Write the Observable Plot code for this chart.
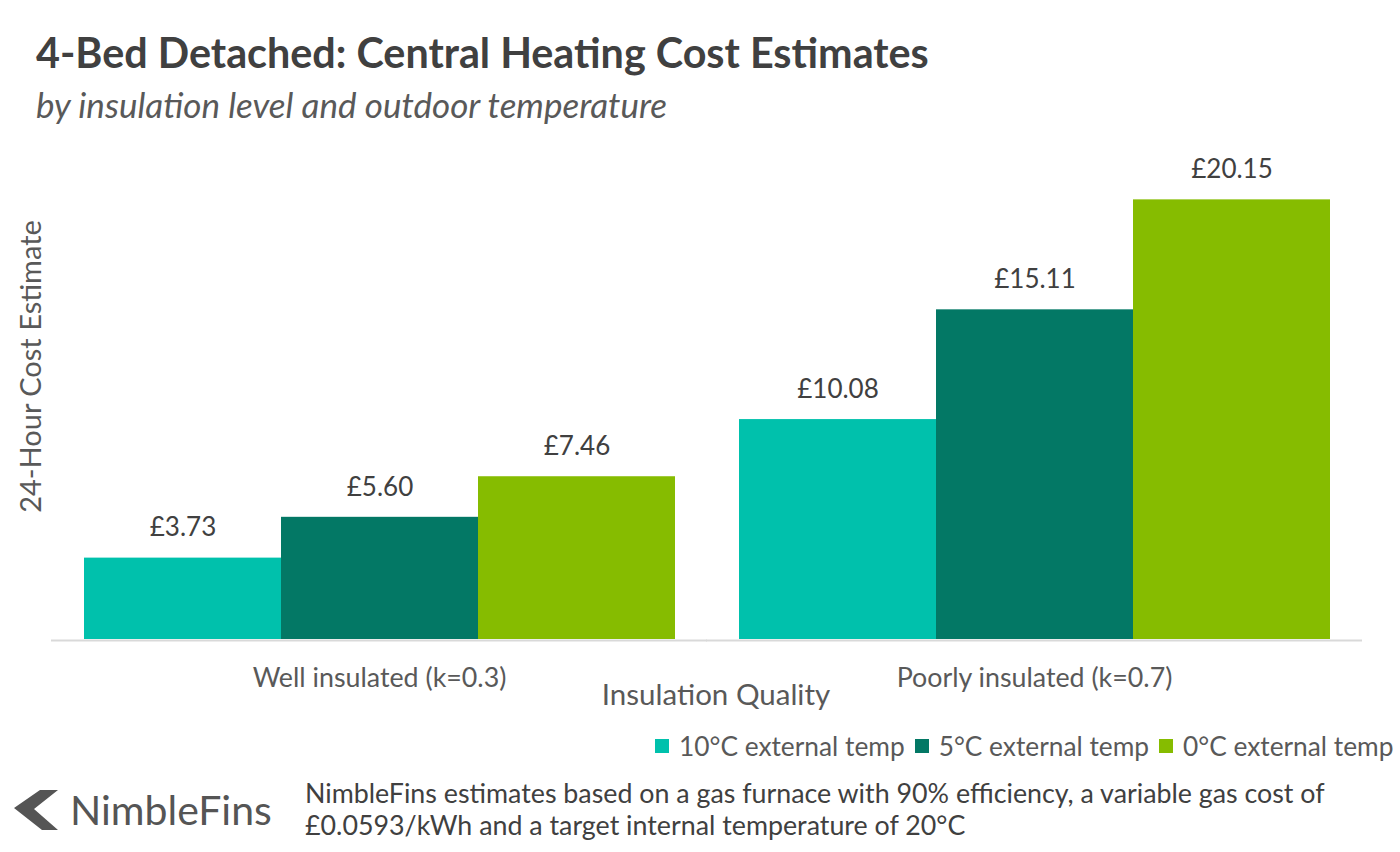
<!DOCTYPE html>
<html>
<head>
<meta charset="utf-8">
<script src="https://cdn.jsdelivr.net/npm/d3@7"></script>
<script src="https://cdn.jsdelivr.net/npm/@observablehq/plot@0.6"></script>
<style>
  body { margin: 0; background: #fff; font-family: Lato, "Open Sans", sans-serif; }
  #wrap { position: relative; width: 1400px; height: 852px; overflow: hidden; background: #fff; }
  #title { position: absolute; left: 36px; top: 28px; font-size: 41.3px; font-weight: 700; color: #404040; line-height: 48px; white-space: nowrap; }
  #subtitle { position: absolute; left: 36px; top: 84px; font-size: 35px; font-style: italic; color: #595959; line-height: 40px; white-space: nowrap; }
  #chart { position: absolute; left: 0; top: 130px; }
  #legend { position: absolute; left: 655px; top: 730px; display: flex; align-items: center; font-size: 26.3px; color: #595959; white-space: nowrap; line-height: 32px; }
  #legend .sw { width: 14px; height: 14px; margin-right: 10px; }
  #legend .lab { margin-right: 10px; }
  #logo { position: absolute; left: 14px; top: 786px; display: flex; align-items: center; }
  #logo span { font-size: 41px; color: #555; margin-left: 10px; line-height: 48px; }
  #note { position: absolute; left: 305px; top: 777px; font-size: 26.8px; color: #404040; line-height: 32px; white-space: nowrap; }
  #note div { line-height: 32px; }
</style>
</head>
<body>
<div id="wrap">
  <div id="title"></div>
  <div id="subtitle"></div>
  <div id="chart"></div>
  <div id="legend"></div>
  <div id="logo">
    <svg width="46" height="44" viewBox="0 0 46 44">
      <path d="M0 20 L26 2 L44 2 L20 21 L44 42 L28 42 Z" fill="#555"/>
    </svg>
    <span>NimbleFins</span>
  </div>
  <div id="note"></div>
</div>
<script>
// Chart text
const titleText = "4-Bed Detached: Central Heating Cost Estimates";
const subtitleText = "by insulation level and outdoor temperature";
const yLabel = "24-Hour Cost Estimate";
const xLabel = "Insulation Quality";
const noteLines = [
  "NimbleFins estimates based on a gas furnace with 90% efficiency, a variable gas cost of",
  "£0.0593/kWh and a target internal temperature of 20°C"
];

// Categories and series
const groups = ["Well insulated (k=0.3)", "Poorly insulated (k=0.7)"];
const series = ["10°C external temp", "5°C external temp", "0°C external temp"];
const seriesColors = ["#00C1AC", "#037865", "#86BC00"];

// 24-hour cost (£) per series, for each insulation level
const wellInsulated = [3.73, 5.60, 7.46];
const poorlyInsulated = [10.08, 15.11, 20.15];

const rows = [
  ...series.map((s, i) => ({group: groups[0], series: s, value: wellInsulated[i]})),
  ...series.map((s, i) => ({group: groups[1], series: s, value: poorlyInsulated[i]}))
];

document.getElementById("title").textContent = titleText;
document.getElementById("subtitle").textContent = subtitleText;
document.getElementById("note").innerHTML = noteLines.map(l => `<div>${l}</div>`).join("");

const legend = document.getElementById("legend");
series.forEach((s, i) => {
  const sw = document.createElement("div");
  sw.className = "sw";
  sw.style.background = seriesColors[i];
  const lab = document.createElement("div");
  lab.className = "lab";
  lab.textContent = s;
  legend.append(sw, lab);
});

const chart = Plot.plot({
  width: 1400,
  height: 590,
  marginLeft: 52,
  marginRight: 38,
  marginTop: 29,
  marginBottom: 81,
  style: {fontFamily: "Lato, 'Open Sans', sans-serif", fontSize: "26px", color: "#595959", background: "transparent"},
  fx: {domain: groups, paddingInner: 0.096, paddingOuter: 0.048, label: null},
  x: {domain: series, padding: 0, axis: null},
  y: {domain: [0, 22], axis: null},
  color: {domain: series, range: seriesColors},
  marks: [
    // baseline: each facet's rule reaches out to meet its neighbour and the plot edges
    Plot.ruleY([0], {stroke: "#d9d9d9", strokeWidth: 2, dy: 1, insetLeft: -32, insetRight: -32}),
    Plot.barY(rows, {fx: "group", x: "series", y: "value", fill: "series"}),
    Plot.text(rows, {
      fx: "group", x: "series", y: "value",
      text: d => "£" + d.value.toFixed(2),
      dy: -30, fontSize: 26, fill: "#404040"
    }),
    Plot.axisFx({anchor: "bottom", tickSize: 0, tickPadding: 28, fontSize: 26.8, label: null, fill: "#595959"}),
    Plot.text([xLabel], {
      text: d => d, frameAnchor: "bottom", lineAnchor: "middle", textAnchor: "middle",
      dy: 56, dx: 9, fontSize: 29.5, fill: "#595959", facet: "super"
    }),
    Plot.text([yLabel], {
      text: d => d, frameAnchor: "left", textAnchor: "middle", lineAnchor: "middle", rotate: -90,
      dx: -52, dy: -33, fontSize: 29, fill: "#595959", facet: "super"
    })
  ]
});
document.getElementById("chart").append(chart);
</script>
</body>
</html>
